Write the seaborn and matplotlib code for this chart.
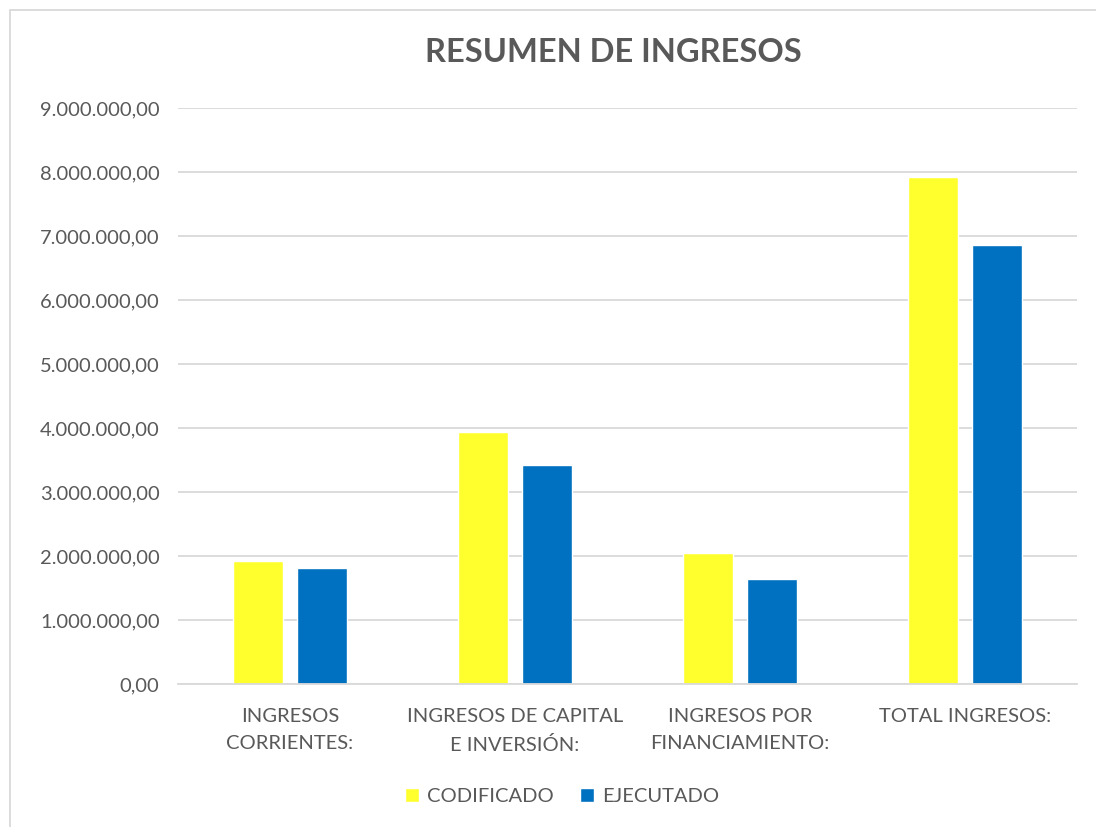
import pandas as pd
import matplotlib.pyplot as plt
import matplotlib.ticker as mticker
import seaborn as sns

# Datos
categorias = ['INGRESOS\nCORRIENTES:', 'INGRESOS DE CAPITAL\nE INVERSIÓN:',
              'INGRESOS POR\nFINANCIAMIENTO:', 'TOTAL INGRESOS:']
codificado = [1920000, 3935000, 2055000, 7925000]
ejecutado = [1805000, 3430000, 1635000, 6865000]

df = pd.DataFrame({
    'categoria': categorias * 2,
    'serie': ['CODIFICADO'] * 4 + ['EJECUTADO'] * 4,
    'valor': codificado + ejecutado,
})

sns.set_theme(style='white')
plt.rcParams['font.family'] = ['Lato', 'DejaVu Sans']
gris = '#595959'

fig = plt.figure(figsize=(10.96, 8.27), dpi=100)
ax = fig.add_axes([0.162, 0.173, 0.821, 0.696])

sns.barplot(data=df, x='categoria', y='valor', hue='serie',
            palette={'CODIFICADO': '#FFFF2E', 'EJECUTADO': '#0070C0'},
            width=0.57, gap=0.22, ax=ax, saturation=1)

ax.set_ylim(0, 9000000)
ax.yaxis.set_major_locator(mticker.MultipleLocator(1000000))
ax.yaxis.set_major_formatter(mticker.FuncFormatter(
    lambda v, p: f'{v:,.2f}'.replace(',', 'X').replace('.', ',').replace('X', '.')))
ax.grid(axis='y', color='#d9d9d9', linewidth=1.3)
ax.set_axisbelow(True)
for s in ['top', 'right', 'left']:
    ax.spines[s].set_visible(False)
ax.spines['bottom'].set_color('#d9d9d9')
ax.spines['bottom'].set_linewidth(1.3)
ax.set_xlabel('')
ax.set_ylabel('')
ax.tick_params(axis='both', length=0, colors=gris, labelsize=14.5)
ax.tick_params(axis='y', pad=13)
ax.tick_params(axis='x', pad=17)
for t in ax.get_xticklabels():
    t.set_linespacing(1.75)

fig.text(0.560, 0.936, 'RESUMEN DE INGRESOS', fontsize=23.5, fontweight='bold',
         color=gris, ha='center', va='center')

ax.legend(loc='upper center', bbox_to_anchor=(0.427, -0.15), ncol=2, frameon=False,
          fontsize=14.5, labelcolor=gris, handlelength=0.7, handleheight=0.7,
          handletextpad=0.4, columnspacing=1.3)

# borde del area del grafico
fig.patches.append(plt.Rectangle((0.009, -0.01), 1.1, 0.998, transform=fig.transFigure,
                                 fill=False, edgecolor='#d9d9d9', linewidth=1.3))

fig.savefig('out.png', dpi=100)
